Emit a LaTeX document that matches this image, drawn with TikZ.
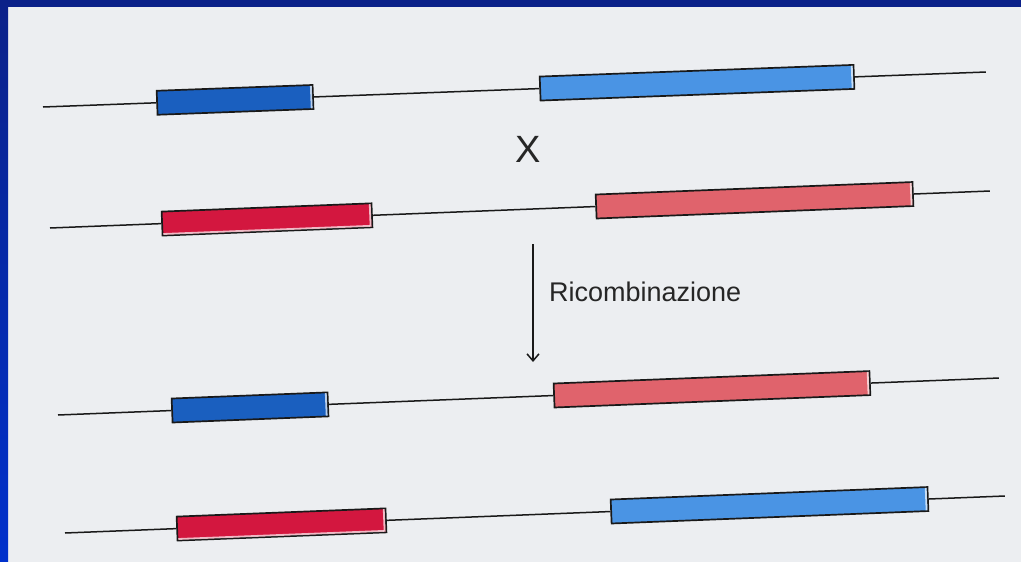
\documentclass[tikz,border=0pt]{standalone}
\usepackage{fontspec}
\setmainfont{Liberation Serif}
\newfontfamily\labelfont{Liberation Sans}
\usetikzlibrary{calc,arrows.meta}

\definecolor{paper}{HTML}{ECEEF1}
\definecolor{framenavy}{HTML}{0B2189}
\definecolor{frameroyal}{HTML}{0031CC}
\definecolor{exdarkblue}{HTML}{1A5FBF}
\definecolor{exlightblue}{HTML}{4A94E4}
\definecolor{exred}{HTML}{D3173F}
\definecolor{exsalmon}{HTML}{E0636C}

% light edge inside the right end of an exon box
\newcommand\exonshineright[1]{%
  \draw[shine, shorten <=1.6pt, shorten >=1.6pt]
    ($(#1.north east)!2.6pt!(#1.north west)$) -- ($(#1.south east)!2.6pt!(#1.south west)$);}
% light edge inside the bottom of an exon box
\newcommand\exonshinebottom[1]{%
  \draw[shine, shorten <=1.6pt, shorten >=3pt]
    ($(#1.south west)!2.4pt!(#1.north west)$) -- ($(#1.south east)!2.4pt!(#1.north east)$);}

\begin{document}
\begin{tikzpicture}[x=1pt,y=1pt,
  exon/.style={draw=black!90, line width=1.7pt, rectangle, inner sep=0pt,
               minimum height=24pt, transform shape},
  intron/.style={line width=1.5pt, black!90},
  shine/.style={white, opacity=.7, line width=1.8pt}]

\useasboundingbox (0,-562) rectangle (1021,0);
\fill[paper] (0,-562) rectangle (1021,0);

% first gene
\begin{scope}[shift={(43,-107)}, rotate=2.126]
  \coordinate (s1) at (0,0);
  \node[exon, fill=exdarkblue, minimum width=156pt] (a1) at (192.2,0) {};
  \node[exon, fill=exlightblue, minimum width=314pt] (b1) at (654.5,0) {};
  \coordinate (e1) at (943.6,0);
\end{scope}
\draw[intron] (s1) -- (a1.west) (a1.east) -- (b1.west) (b1.east) -- (e1);
\exonshineright{a1}\exonshineright{b1}

% crossing-over mark
\node[inner sep=0pt, text=black!85, font=\labelfont\fontsize{38}{40}\selectfont] (cross) at (528,-149) {X};

% second gene
\begin{scope}[shift={(50,-228)}, rotate=2.254]
  \coordinate (s2) at (0,0);
  \node[exon, fill=exred, minimum width=210pt] (a2) at (217.2,0) {};
  \node[exon, fill=exsalmon, minimum width=317pt] (b2) at (705.1,0) {};
  \coordinate (e2) at (940.7,0);
\end{scope}
\draw[intron] (s2) -- (a2.west) (a2.east) -- (b2.west) (b2.east) -- (e2);
\exonshineright{a2}\exonshineright{b2}\exonshinebottom{a2}

% recombination step
\coordinate (recTop) at (533,-244);
\coordinate (recBot) at (533,-362);
\draw[line width=1.5pt, black!90, -{Straight Barb[length=7pt,width=12pt]}] (recTop) -- (recBot);
\node[anchor=base west, inner sep=0pt, text=black!85,
      font=\labelfont\fontsize{27}{30}\selectfont] (rec) at (549,-301) {Ricombinazione};

% third gene
\begin{scope}[shift={(58,-415)}, rotate=2.252]
  \coordinate (s3) at (0,0);
  \node[exon, fill=exdarkblue, minimum width=156pt] (a3) at (192.2,0) {};
  \node[exon, fill=exsalmon, minimum width=316pt] (b3) at (654.5,0) {};
  \coordinate (e3) at (941.7,0);
\end{scope}
\draw[intron] (s3) -- (a3.west) (a3.east) -- (b3.west) (b3.east) -- (e3);
\exonshineright{a3}\exonshineright{b3}

% fourth gene
\begin{scope}[shift={(65,-533)}, rotate=2.254]
  \coordinate (s4) at (0,0);
  \node[exon, fill=exred, minimum width=209pt] (a4) at (216.7,0) {};
  \node[exon, fill=exlightblue, minimum width=317pt] (b4) at (705.1,0) {};
  \coordinate (e4) at (940.7,0);
\end{scope}
\draw[intron] (s4) -- (a4.west) (a4.east) -- (b4.west) (b4.east) -- (e4);
\exonshineright{a4}\exonshineright{b4}\exonshinebottom{a4}

% slide frame
\fill[framenavy] (0,-7) rectangle (1021,0);
\shade[top color=framenavy, bottom color=frameroyal] (0,-562) rectangle (8,0);
\end{tikzpicture}
\end{document}
